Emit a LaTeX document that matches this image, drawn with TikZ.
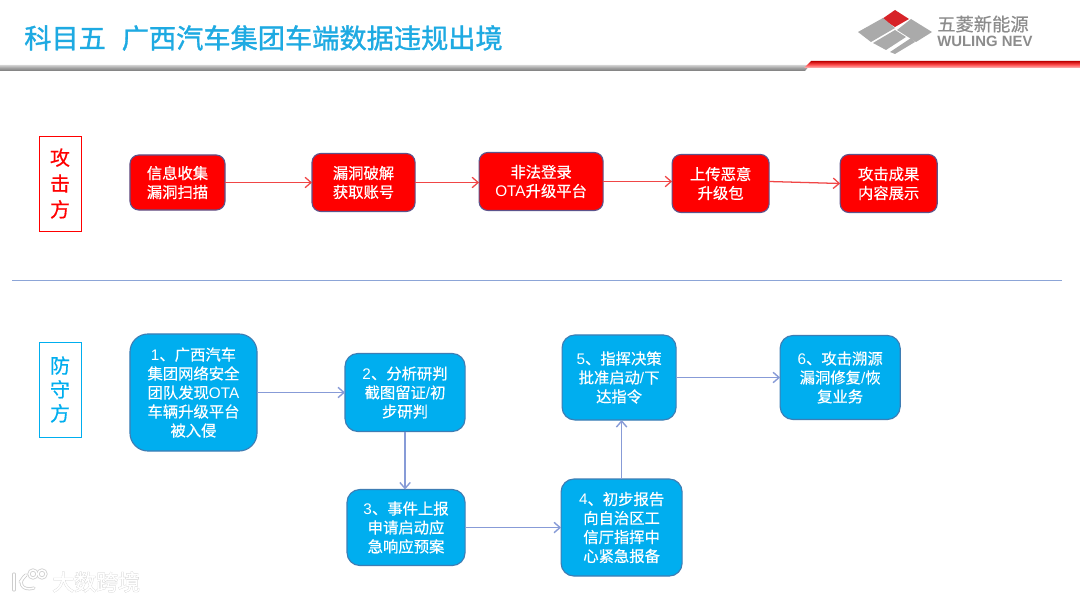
\documentclass[tikz,border=0pt]{standalone}
\usepackage{fontspec}
\setmainfont[FakeBold=0.5]{Noto Sans CJK SC}
\newfontfamily\titlefont[FakeBold=1.2]{Noto Sans CJK SC}
\newfontfamily\latfont{Liberation Sans}
\newfontfamily\haloFont[FakeBold=3]{Noto Sans CJK SC}
\usepackage{xcolor}
\usepackage{tikz}
\usetikzlibrary{positioning,arrows.meta}
\definecolor{titleblue}{RGB}{30,170,226}
\definecolor{boxred}{RGB}{255,0,0}
\definecolor{boxblue}{RGB}{0,174,239}
\definecolor{edgered}{RGB}{92,84,140}
\definecolor{edgeblue}{RGB}{62,125,180}
\definecolor{linered}{RGB}{240,70,70}
\definecolor{lineblue}{RGB}{135,155,215}
\definecolor{sepblue}{RGB}{140,165,215}
\definecolor{logogray}{RGB}{170,170,170}
\definecolor{logotext}{RGB}{140,140,140}
\definecolor{logored}{RGB}{215,35,40}
\definecolor{halo}{RGB}{205,205,205}
\tikzset{
	bodytext/.style={font=\fontsize{10.9}{13.5}\selectfont, text=white, align=center, inner sep=0pt, outer sep=0pt},
	redbox/.style={draw=edgered, fill=boxred, line width=0.8pt, rounded corners=0.22cm, bodytext},
	bluebox/.style={draw=edgeblue, fill=boxblue, line width=0.8pt, rounded corners=0.32cm, bodytext},
	sidebox/.style={draw, line width=0.6pt, minimum width=1.05cm, align=center, inner sep=0pt, outer sep=0pt},
	redline/.style={draw=linered, line width=0.9pt, -{Straight Barb[length=1.5mm,width=2.6mm]}},
	blueline/.style={draw=lineblue, line width=1pt, -{Straight Barb[length=1.5mm,width=2.6mm]}},
	logopiece/.style={fill=logogray}
}
\begin{document}
\begin{tikzpicture}[x=0.025cm, y=-0.025cm]
	\useasboundingbox (0,0) rectangle (1080,602);
	\fill[white] (0,0) rectangle (1080,602);

	\node[anchor=west, inner sep=0pt, text=titleblue, font=\fontsize{19.35}{23}\selectfont\titlefont] (title) at (24,38) {科目五\hspace*{11.3pt}广西汽车集团车端数据违规出境};

	\shade[top color=gray!35, bottom color=gray!95!black, middle color=gray!75] (0,65) -- (810,65) -- (805,71) -- (0,71) -- cycle;
	\shade[top color=red!75!black, bottom color=red!25, middle color=red!70] (811,61) -- (1080,61) -- (1080,68) -- (804,68) -- cycle;

	\fill[logored] (895,10) -- (909,19) -- (895,27) -- (882,19) -- cycle;
	\fill[logopiece] (858,32) -- (883,18) -- (895,28) -- (871,42) -- cycle;
	\fill[logopiece] (897,30) -- (911,19) -- (932,32) -- (916,42) -- cycle;
	\fill[logopiece] (873,43) -- (895,30) -- (906,37) -- (886,50) -- cycle;
	\fill[logopiece] (890,52) -- (911,38) -- (915,42) -- (895,54) -- cycle;
	\node[anchor=west, inner sep=0pt, text=logotext, font=\fontsize{13}{14}\selectfont] (logocn) at (937,24) {五菱新能源};
	\node[anchor=west, inner sep=0pt, text=logotext, font=\fontsize{10.6}{12}\selectfont\latfont\bfseries] (logoen) at (937,41) {WULING NEV};

	\node[sidebox, color=red, minimum height=2.375cm, font=\fontsize{14.2}{18.4}\selectfont] (attack) at (60,183.5) {攻\\击\\方};
	\node[sidebox, color=boxblue, minimum height=2.375cm, font=\fontsize{14.2}{17}\selectfont] (defend) at (60,389.5) {防\\守\\方};

	\node[redbox, minimum width=2.375cm, minimum height=1.375cm] (collect) at (177.5,182.5) {信息收集\\漏洞扫描};
	\node[redbox, minimum width=2.575cm, minimum height=1.45cm, right=2.175cm of collect] (crack) {漏洞破解\\获取账号};
	\node[redbox, minimum width=3.1cm, minimum height=1.45cm, right=1.6cm of crack, yshift=0.025cm] (login) {非法登录\\{\latfont OTA}升级平台};
	\node[redbox, minimum width=2.425cm, minimum height=1.45cm, right=1.725cm of login, yshift=-0.05cm] (upload) {上传恶意\\升级包};
	\node[redbox, minimum width=2.425cm, minimum height=1.45cm, right=1.775cm of upload] (show) {攻击成果\\内容展示};

	\draw[redline] (collect) -- (crack);
	\draw[redline] (crack.east) -- (crack.east -| login.west);
	\draw[redline] (login.east) -- (login.east -| upload.west);
	\draw[redline] ([yshift=0.05cm]upload.east) -- (show.west);

	\coordinate (sepleft) at (12,280);
	\coordinate (sepright) at (1062,280);
	\draw[sepblue, line width=0.7pt] (sepleft) -- (sepright);

	\node[bluebox, rounded corners=0.45cm, minimum width=3.175cm, minimum height=2.925cm] (found) at (193.5,392.5) {{\latfont 1}、广西汽车\\集团网络安全\\团队发现{\latfont OTA}\\车辆升级平台\\被入侵};
	\node[bluebox, minimum width=3cm, minimum height=1.95cm, right=2.2cm of found] (analyse) {{\latfont 2}、分析研判\\截图留证{\latfont /}初\\步研判};
	\node[bluebox, minimum width=2.95cm, minimum height=1.9cm, below=1.45cm of analyse, xshift=0.025cm] (report) {{\latfont 3}、事件上报\\申请启动应\\急响应预案};
	\node[bluebox, minimum width=3.025cm, minimum height=2.425cm, right=2.4cm of report] (notify) {{\latfont 4}、初步报告\\向自治区工\\信厅指挥中\\心紧急报备};
	\node[bluebox, minimum width=2.85cm, minimum height=2.125cm, above=1.475cm of notify, xshift=-0.0625cm] (decide) {{\latfont 5}、指挥决策\\批准启动{\latfont /}下\\达指令};
	\node[bluebox, minimum width=3cm, minimum height=2.1cm, right=2.6cm of decide] (recover) {{\latfont 6}、攻击溯源\\漏洞修复{\latfont /}恢\\复业务};

	\draw[blueline] (found) -- (analyse);
	\draw[blueline] (analyse) -- (analyse |- report.north);
	\draw[blueline] (report) -- (notify);
	\draw[blueline] (notify.north) -- (notify.north |- decide.south);
	\draw[blueline] (decide) -- (recover);

	\foreach \wmcolor/\wmwidth in {halo/2.2pt, white/1.1pt}{
		\draw[\wmcolor, line width=\wmwidth, line cap=round] (14,574) -- (14,590);
		\draw[\wmcolor, line width=\wmwidth, line cap=round] (26,575) .. controls (18,580) and (20,592) .. (34,588);
		\draw[\wmcolor, line width=\wmwidth, line cap=round] (20,582) -- (26,575);
		\draw[\wmcolor, line width=\wmwidth] (33,574) circle (4);
		\draw[\wmcolor, line width=\wmwidth] (42,574) circle (4);
	}
	\node[anchor=west, inner sep=0pt, text=white, font=\fontsize{15.6}{18}\selectfont] (mark) at (52,582) {\rlap{\haloFont\textcolor{halo}{大数跨境}}大数跨境};
\end{tikzpicture}
\end{document}
